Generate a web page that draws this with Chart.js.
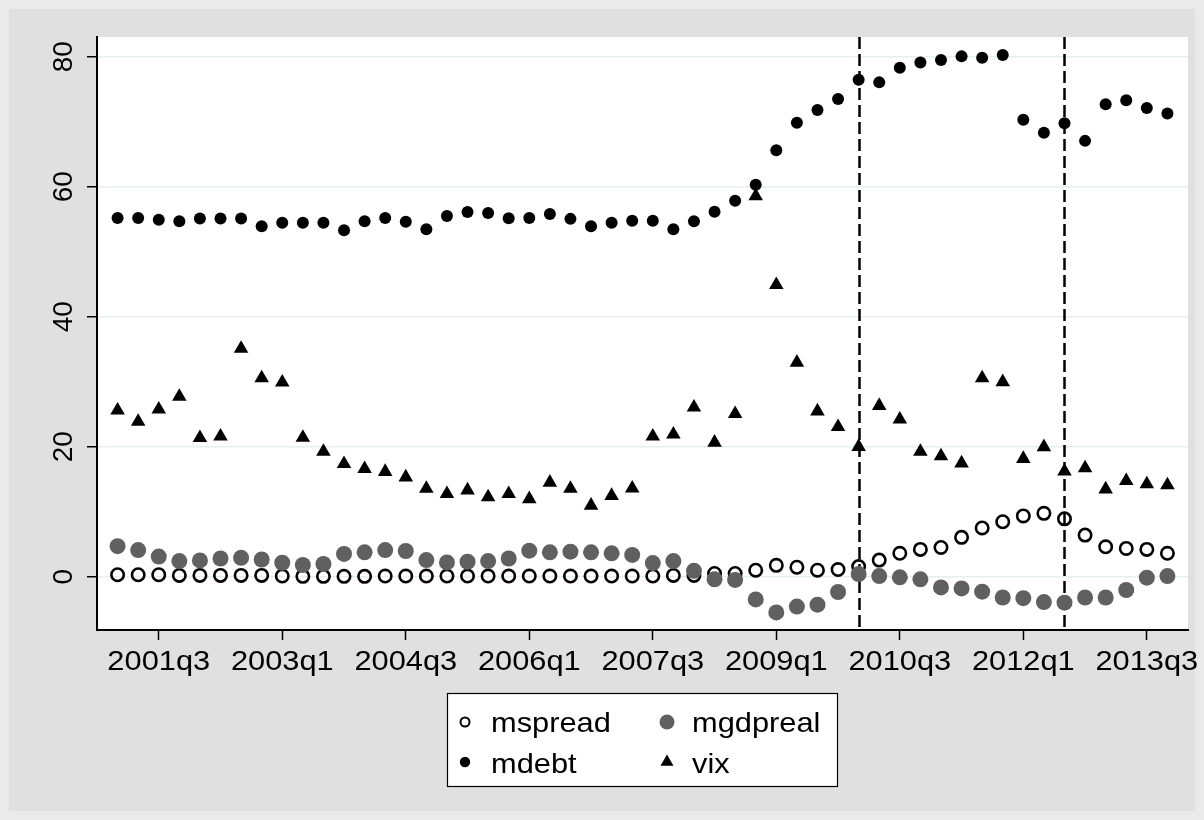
<!DOCTYPE html>
<html>
<head>
<meta charset="utf-8">
<script src="https://cdn.jsdelivr.net/npm/chart.js@4/dist/chart.umd.min.js"></script>
<style>
  html, body { margin: 0; padding: 0; background: #eaeaea; }
  #wrap { position: absolute; left: 0; top: 0; width: 1204px; height: 820px; }
  canvas { display: block; }
</style>
</head>
<body>
<div id="wrap"><canvas id="c" width="1204" height="820"></canvas></div>
<script>
// Quarterly observations, 2001q1 .. 2013q4
const quarters = [
  "2001q1","2001q2","2001q3","2001q4","2002q1","2002q2","2002q3","2002q4",
  "2003q1","2003q2","2003q3","2003q4","2004q1","2004q2","2004q3","2004q4",
  "2005q1","2005q2","2005q3","2005q4","2006q1","2006q2","2006q3","2006q4",
  "2007q1","2007q2","2007q3","2007q4","2008q1","2008q2","2008q3","2008q4",
  "2009q1","2009q2","2009q3","2009q4","2010q1","2010q2","2010q3","2010q4",
  "2011q1","2011q2","2011q3","2011q4","2012q1","2012q2","2012q3","2012q4",
  "2013q1","2013q2","2013q3","2013q4"
];

const mspread = [
  0.3, 0.3, 0.3, 0.2, 0.2, 0.2, 0.2, 0.2, 0.1, 0.05, 0.05, 0.05, 0.05,
  0.1, 0.1, 0.1, 0.1, 0.1, 0.1, 0.1, 0.1, 0.1, 0.1, 0.1, 0.1, 0.1,
  0.1, 0.2, 0.2, 0.5, 0.5, 1.0, 1.75, 1.45, 1.0, 1.1, 1.55, 2.55, 3.6,
  4.2, 4.5, 6.05, 7.5, 8.45, 9.35, 9.75, 8.9, 6.4, 4.6, 4.35, 4.2, 3.6
];

const mgdpreal = [
  4.7, 4.1, 3.1, 2.4, 2.5, 2.8, 2.9, 2.65, 2.15, 1.8, 1.95, 3.5, 3.75,
  4.1, 3.95, 2.55, 2.2, 2.3, 2.4, 2.8, 4.0, 3.75, 3.85, 3.75, 3.6, 3.35,
  2.1, 2.4, 0.9, -0.4, -0.5, -3.5, -5.5, -4.6, -4.3, -2.35, 0.4, 0.1, -0.1,
  -0.4, -1.65, -1.8, -2.3, -3.2, -3.3, -3.9, -4.0, -3.2, -3.2, -2.05, -0.15, 0.1
];

const mdebt = [
  55.2, 55.2, 54.9, 54.7, 55.1, 55.1, 55.1, 53.9, 54.45, 54.45, 54.45, 53.3, 54.7,
  55.2, 54.6, 53.45, 55.5, 56.1, 55.95, 55.15, 55.2, 55.8, 55.05, 53.9, 54.45, 54.75,
  54.75, 53.45, 54.7, 56.15, 57.85, 60.3, 65.6, 69.85, 71.8, 73.5, 76.45, 76.05, 78.3,
  79.1, 79.5, 80.05, 79.85, 80.25, 70.3, 68.3, 69.75, 67.05, 72.7, 73.3, 72.1, 71.25
];

const vix = [
  25.6, 23.85, 25.75, 27.7, 21.35, 21.6, 35.1, 30.55, 29.9, 21.4, 19.25, 17.35, 16.6,
  16.15, 15.3, 13.55, 12.75, 13.3, 12.25, 12.75, 11.95, 14.5, 13.55, 10.95, 12.45, 13.6,
  21.6, 21.9, 26.05, 20.65, 25.05, 58.55, 44.9, 32.95, 25.45, 23.05, 20.0, 26.3, 24.2,
  19.25, 18.55, 17.45, 30.55, 29.95, 18.15, 19.95, 16.2, 16.7, 13.45, 14.75, 14.25, 14.1
];

// Axis labels and reference lines
const xTickLabels = ["2001q3","2003q1","2004q3","2006q1","2007q3","2009q1","2010q3","2012q1","2013q3"];
const yTickValues = [0, 20, 40, 60, 80];
const refQuarters = ["2010q1", "2012q3"];

const FONT = '"Liberation Sans", Arial, Helvetica, sans-serif';
const GRAY = '#606060';
const TEXT_STRETCH = 1.1; // slightly wide lettering for horizontal labels

const toPoints = arr => arr.map((v, i) => ({ x: i, y: v }));
const xTickIdx = xTickLabels.map(l => quarters.indexOf(l));
const refIdx = refQuarters.map(l => quarters.indexOf(l));

function wideText(c, text, x, y, align) {
  c.save();
  c.translate(x, y);
  c.scale(TEXT_STRETCH, 1);
  c.textAlign = align;
  c.fillText(text, 0, 0);
  c.restore();
}

// Page background and the grey graph region
const regionBg = {
  id: 'regionBg',
  beforeDraw(chart) {
    const c = chart.ctx;
    c.save();
    c.fillStyle = '#eaeaea';
    c.fillRect(0, 0, chart.width, chart.height);
    c.fillStyle = '#e0e0e0';
    c.fillRect(9, 9, chart.width - 18, chart.height - 18);
    const a = chart.chartArea;
    c.fillStyle = '#ffffff';
    c.fillRect(a.left, a.top, a.right - a.left, a.bottom - a.top);
    c.restore();
  }
};

// Dashed vertical markers at the chosen quarters
const refLines = {
  id: 'refLines',
  beforeDatasetsDraw(chart) {
    const c = chart.ctx, a = chart.chartArea, xs = chart.scales.x;
    c.save();
    c.strokeStyle = '#000';
    c.lineWidth = 2.5;
    c.setLineDash([12, 5]);
    refIdx.forEach(q => {
      const px = Math.round(xs.getPixelForValue(q)) + 0.5;
      c.beginPath();
      c.moveTo(px, a.top);
      c.lineTo(px, a.bottom);
      c.stroke();
    });
    c.restore();
  }
};

// Tick labels: rotated on the y axis, wide lettering on the x axis
const axisLabels = {
  id: 'axisLabels',
  afterDraw(chart) {
    const c = chart.ctx, ys = chart.scales.y, xs = chart.scales.x;
    c.save();
    c.fillStyle = '#000';
    c.font = '28px ' + FONT;
    c.textBaseline = 'alphabetic';
    c.textAlign = 'center';
    ys.ticks.forEach(t => {
      const py = ys.getPixelForValue(t.value);
      c.save();
      c.translate(72, py);
      c.rotate(-Math.PI / 2);
      c.fillText(String(t.value), 0, 0);
      c.restore();
    });
    xs.ticks.forEach(t => {
      const px = xs.getPixelForValue(t.value);
      wideText(c, quarters[t.value], px, 669.5, 'center');
    });
    c.restore();
  }
};

// Boxed two-column legend below the plot
const boxLegend = {
  id: 'boxLegend',
  afterDraw(chart) {
    const c = chart.ctx;
    const box = { x: 447.5, y: 693.5, w: 390, h: 93 };
    c.save();
    c.fillStyle = '#fff';
    c.fillRect(box.x, box.y, box.w, box.h);
    c.strokeStyle = '#000';
    c.lineWidth = 1.2;
    c.strokeRect(box.x, box.y, box.w, box.h);

    const order = [0, 1, 2, 3]; // mspread, mgdpreal, mdebt, vix (row-major)
    const cols = [{ sx: 465, tx: 491 }, { sx: 667, tx: 692 }];
    const rows = [{ sy: 722, ty: 732 }, { sy: 762, ty: 773 }];
    c.font = '28px ' + FONT;
    c.textBaseline = 'alphabetic';
    order.forEach((di, k) => {
      const ds = chart.data.datasets[di];
      const col = cols[k % 2], row = rows[Math.floor(k / 2)];
      const s = ds.legendSymbol;
      const x = col.sx, y = row.sy;
      c.beginPath();
      if (ds.pointStyle === 'triangle') {
        const r = s.r;
        c.moveTo(x, y - r);
        c.lineTo(x + Math.sin(2 * Math.PI / 3) * r, y + r / 2);
        c.lineTo(x - Math.sin(2 * Math.PI / 3) * r, y + r / 2);
        c.closePath();
      } else {
        c.arc(x, y, s.r, 0, Math.PI * 2);
      }
      if (s.fill) { c.fillStyle = s.fill; c.fill(); }
      if (s.stroke) { c.strokeStyle = s.stroke; c.lineWidth = s.lw; c.stroke(); }
      c.fillStyle = '#000';
      wideText(c, ds.label, col.tx, row.ty, 'left');
    });
    c.restore();
  }
};

new Chart(document.getElementById('c'), {
  type: 'scatter',
  data: {
    datasets: [
      {
        label: 'mspread', data: toPoints(mspread), order: 3,
        pointStyle: 'circle', pointRadius: 6.2, pointBorderWidth: 2.6,
        pointBackgroundColor: 'rgba(0,0,0,0)', pointBorderColor: '#000',
        legendSymbol: { r: 4.5, fill: '#fff', stroke: '#000', lw: 2 }
      },
      {
        label: 'mgdpreal', data: toPoints(mgdpreal), order: 2,
        pointStyle: 'circle', pointRadius: 8, pointBorderWidth: 0,
        pointBackgroundColor: GRAY, pointBorderColor: GRAY,
        legendSymbol: { r: 7.5, fill: GRAY }
      },
      {
        label: 'mdebt', data: toPoints(mdebt), order: 1,
        pointStyle: 'circle', pointRadius: 6, pointBorderWidth: 0,
        pointBackgroundColor: '#000', pointBorderColor: '#000',
        legendSymbol: { r: 5.2, fill: '#000' }
      },
      {
        label: 'vix', data: toPoints(vix), order: 0,
        pointStyle: 'triangle', pointRadius: 8.4, pointBorderWidth: 0,
        pointBackgroundColor: '#000', pointBorderColor: '#000',
        legendSymbol: { r: 7.5, fill: '#000' }
      }
    ]
  },
  options: {
    responsive: false,
    animation: false,
    events: [],
    layout: { padding: { left: 0, right: 16, top: 37, bottom: 0 } },
    plugins: { legend: { display: false }, tooltip: { enabled: false } },
    scales: {
      x: {
        type: 'linear', min: -1, max: 52,
        afterBuildTicks: s => { s.ticks = xTickIdx.map(v => ({ value: v })); },
        afterFit: s => { s.height = 190; },
        ticks: { display: false, autoSkip: false, maxRotation: 0, minRotation: 0 },
        grid: { display: true, drawOnChartArea: false, drawTicks: true, tickLength: 10, tickColor: '#000', tickWidth: 1.5 },
        border: { display: true, color: '#000', width: 2 }
      },
      y: {
        type: 'linear', min: -8.2, max: 83.03,
        afterBuildTicks: s => { s.ticks = yTickValues.map(v => ({ value: v })); },
        afterFit: s => { s.width = 97; },
        ticks: { display: false },
        grid: { display: true, drawOnChartArea: true, color: '#e6eff0', lineWidth: 1.5, drawTicks: true, tickLength: 10, tickColor: '#000', tickWidth: 1.5 },
        border: { display: true, color: '#000', width: 2 }
      }
    }
  },
  plugins: [regionBg, refLines, axisLabels, boxLegend]
});
</script>
</body>
</html>
